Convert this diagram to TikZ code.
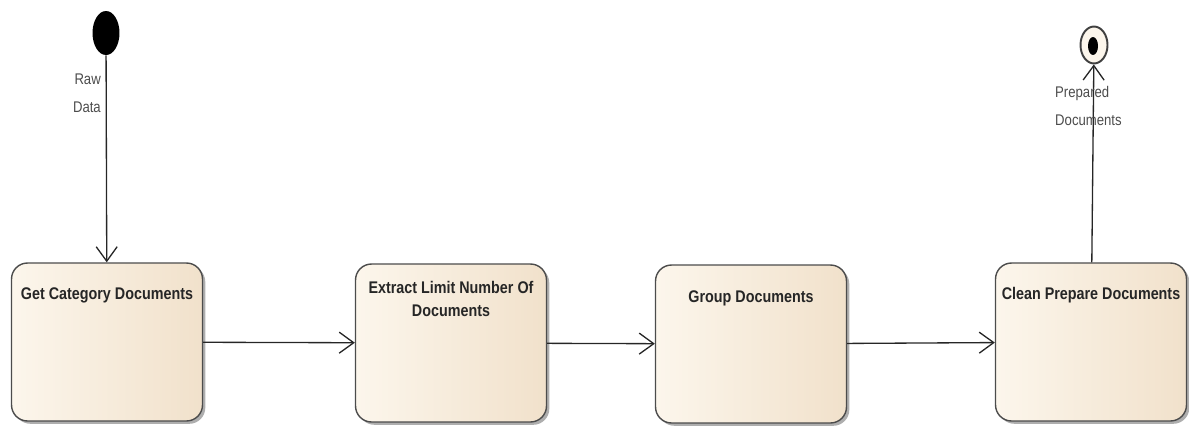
\documentclass[tikz,border=0pt]{standalone}
\usepackage{fontspec}
\setmainfont{Liberation Sans}
\newfontfamily\narrowfont[FakeStretch=0.85]{Liberation Sans}
\usetikzlibrary{arrows.meta,shadows,shapes.geometric}

\definecolor{boxlight}{RGB}{252,246,236}
\definecolor{boxdark}{RGB}{241,225,203}

\begin{document}
\begin{tikzpicture}[x=0.02cm,y=-0.02cm,
  state/.style={draw=black!70,line width=0.8pt,rounded corners=0.32cm,
    minimum width=3.82cm,minimum height=3.16cm,
    left color=boxlight,right color=boxdark,
    drop shadow={shadow xshift=1.6pt,shadow yshift=-1.6pt,fill=black!45,opacity=0.7}},
  flow/.style={draw=black!85,line width=0.75pt,-{Straight Barb[length=2.9mm,width=4.2mm]}},
  boxtext/.style={font=\narrowfont\bfseries\fontsize{9.6}{13}\selectfont,text=black!85,align=center},
  note/.style={font=\narrowfont\fontsize{8.8}{16}\selectfont,text=black!70}]
  \useasboundingbox (0,0) rectangle (1189,426);

  % start and end points
  \node[ellipse,fill=black,minimum width=0.54cm,minimum height=0.88cm,inner sep=0pt] (start) at (106,33) {};
  \node[ellipse,draw=black!75,line width=1.1pt,fill=boxlight,minimum width=0.54cm,minimum height=0.74cm,inner sep=0pt] (final) at (1094,45) {};
  \node[ellipse,fill=black,minimum width=0.2cm,minimum height=0.36cm,inner sep=0pt] (finaldot) at (1093,46) {};

  % states
  \node[state] (get)     at (107,342)  {};
  \node[state] (extract) at (451,343)  {};
  \node[state] (group)   at (751,344)  {};
  \node[state] (clean)   at (1091,342) {};

  \node[boxtext] (getlbl)     at ([yshift=-0.66cm]get.north)     {Get Category Documents};
  \node[boxtext] (extractlbl) at ([yshift=-0.72cm]extract.north) {Extract Limit Number Of\\Documents};
  \node[boxtext] (grouplbl)   at ([yshift=-0.68cm]group.north)   {Group Documents};
  \node[boxtext] (cleanlbl)   at ([yshift=-0.66cm]clean.north)   {Clean Prepare Documents};

  % flows
  \draw[flow] (start) -- (get);
  \draw[flow] (get) -- (extract);
  \draw[flow] (extract) -- (group);
  \draw[flow] (group) -- (clean);
  \draw[flow] (clean) -- (final);

  \node[note,align=right,anchor=east] (rawlbl) at (107,93) {Raw\\Data};
  \node[note,align=left,anchor=west] (preplbl) at (1049,106) {Prepared\\Documents};
\end{tikzpicture}
\end{document}
